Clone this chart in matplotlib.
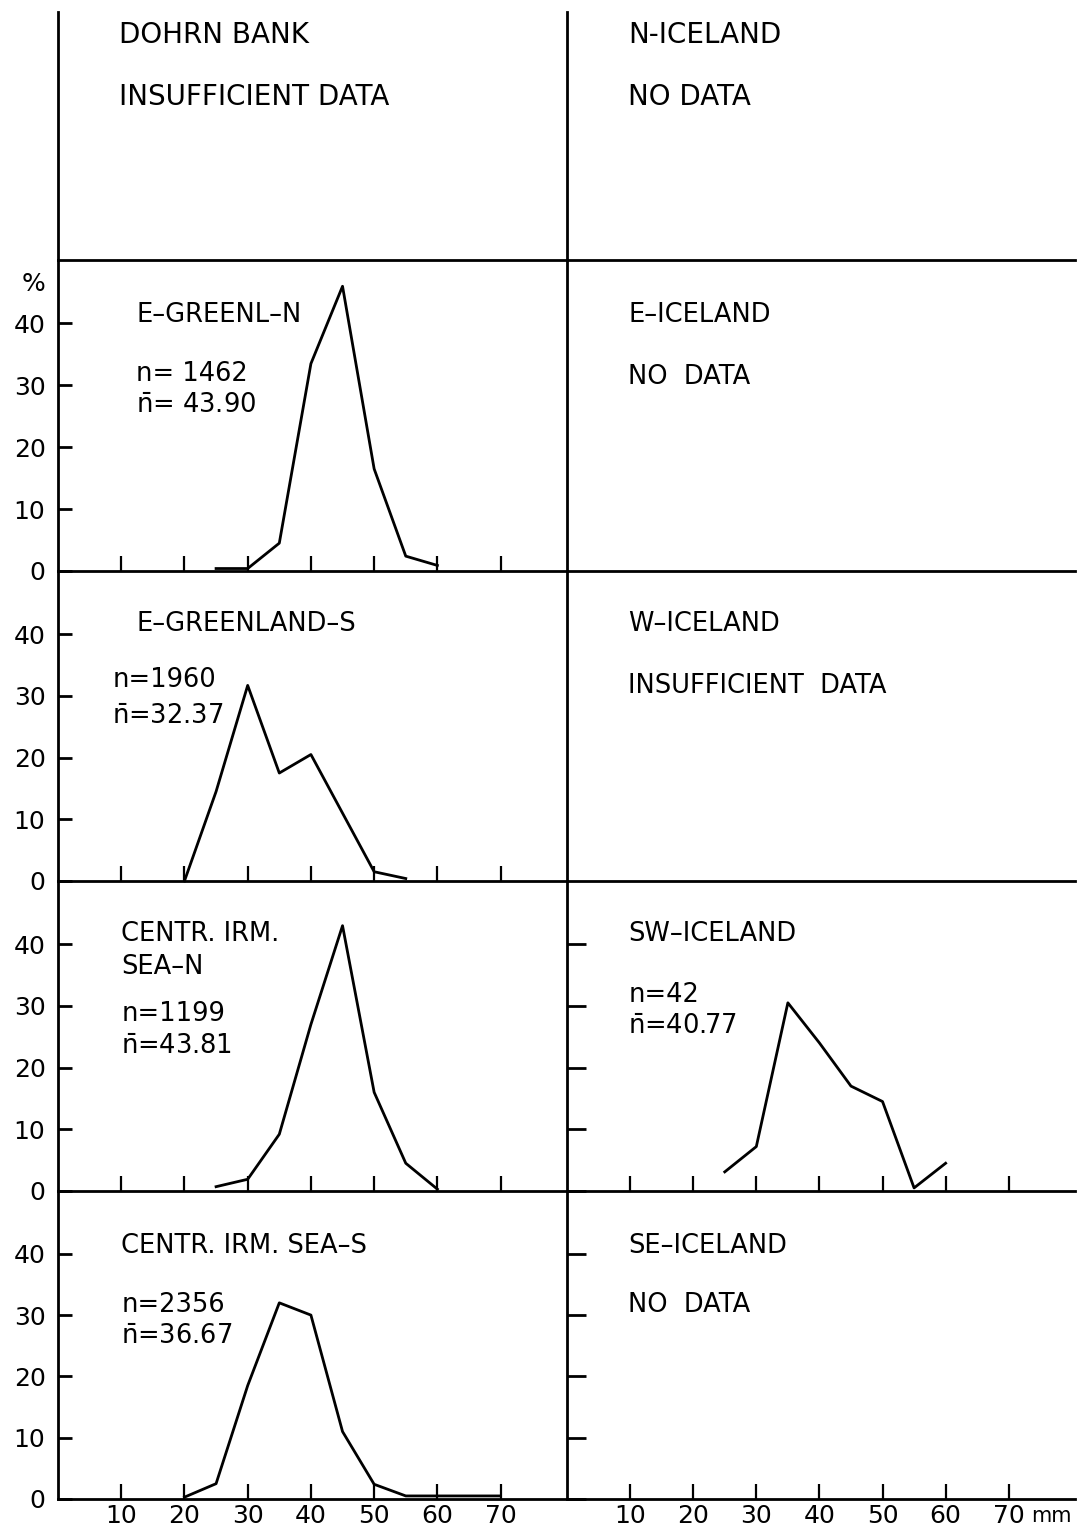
import matplotlib
matplotlib.use('Agg')
import matplotlib.pyplot as plt
from matplotlib import font_manager

plt.rcParams['font.family'] = 'DejaVu Sans'
plt.rcParams['mathtext.fontset'] = 'dejavusans'

# length classes (mm) and percentages
egn_x = [25, 30, 35, 40, 45, 50, 55, 60]
egn_y = [0.4, 0.4, 4.5, 33.5, 46.0, 16.5, 2.4, 0.9]

egs_x = [20, 25, 30, 35, 40, 45, 50, 55]
egs_y = [0.0, 14.5, 31.7, 17.5, 20.5, 11.0, 1.5, 0.4]

cin_x = [25, 30, 35, 40, 45, 50, 55, 60]
cin_y = [0.7, 1.9, 9.2, 27.0, 43.0, 16.0, 4.5, 0.3]

cis_x = [20, 25, 30, 35, 40, 45, 50, 55, 60, 65, 70]
cis_y = [0.3, 2.5, 18.5, 32.0, 30.0, 11.0, 2.4, 0.5, 0.5, 0.5, 0.5]

swi_x = [25, 30, 35, 40, 45, 50, 55, 60]
swi_y = [3.1, 7.2, 30.5, 24.0, 17.0, 14.5, 0.5, 4.5]

xticks = [10, 20, 30, 40, 50, 60, 70]
yticks = [0, 10, 20, 30, 40]

W, H = 1080, 1531
fig = plt.figure(figsize=(W / 100, H / 100), dpi=100)

LW = 2.0
FS = 18.5   # panel labels
TFS = 18    # tick labels

def px_axes(x0, x1, ytop, ybot):
    return fig.add_axes([x0 / W, 1 - ybot / H, (x1 - x0) / W, (ybot - ytop) / H])

def style(ax, ylim, yticklabels=False, yticks_on=False, xticks_on=False, xlabels=False, ytick_len=10):
    ax.set_xlim(0, 80.5)
    ax.set_ylim(0, ylim)
    for s in ['top', 'right']:
        ax.spines[s].set_visible(False)
    for s in ['left', 'bottom']:
        ax.spines[s].set_linewidth(LW)
    ax.set_facecolor('none')
    if yticks_on:
        ax.set_yticks(yticks)
        ax.tick_params(axis='y', direction='in', length=ytick_len, width=LW, pad=9,
                       labelsize=TFS, labelleft=yticklabels)
    else:
        ax.set_yticks([])
    if xticks_on:
        ax.set_xticks(xticks)
        ax.tick_params(axis='x', direction='in', length=11, width=1.6, pad=3.5,
                       labelsize=TFS, labelbottom=xlabels)
    else:
        ax.set_xticks([])

rows = [(12, 260), (260, 571), (571, 881), (881, 1191), (1191, 1499)]
LX0, MID, RX1 = 58, 567, 1075

axes = []
for i, (t, b) in enumerate(rows):
    axl = px_axes(LX0, MID, t, b)
    axr = px_axes(MID, RX1, t, b)
    axes.append((axl, axr))

ylim_row = 310 / 6.17
top_ylim = (260 - 12) / 6.17

# row 1 (condensed lettering in the original)
axl, axr = axes[0]
style(axl, top_ylim)
style(axr, top_ylim)
narrow = 'Liberation Sans Narrow'
try:
    font_manager.findfont(narrow, fallback_to_default=False)
except Exception:
    narrow = 'DejaVu Sans'
axl.text(9.7, 36.5, 'DOHRN BANK', family=narrow, fontsize=20, va='center')
axl.text(9.7, 26.4, 'INSUFFICIENT DATA', family=narrow, fontsize=20, va='center')
axr.text(9.7, 36.5, 'N-ICELAND', family=narrow, fontsize=20, va='center')
axr.text(9.7, 26.4, 'NO DATA', family=narrow, fontsize=20, va='center')

nbar = r'$\bar{\mathrm{n}}$'

# row 2
axl, axr = axes[1]
style(axl, ylim_row, yticklabels=True, yticks_on=True, xticks_on=True)
style(axr, ylim_row)
axl.plot(egn_x, egn_y, color='black', lw=LW, clip_on=False)
axl.text(12.4, 41.3, 'E–GREENL–N', fontsize=FS, va='center')
axl.text(12.4, 31.8, 'n= 1462', fontsize=FS, va='center')
axl.text(12.4, 26.6, nbar + '= 43.90', fontsize=FS, va='center')
axl.text(-3.8, 46.4, '%', fontsize=TFS, va='center', ha='center')
axr.text(9.7, 41.3, 'E–ICELAND', fontsize=FS, va='center')
axr.text(9.7, 31.4, 'NO  DATA', fontsize=FS, va='center')

# row 3
axl, axr = axes[2]
style(axl, ylim_row, yticklabels=True, yticks_on=True, xticks_on=True)
style(axr, ylim_row)
axl.plot(egs_x, egs_y, color='black', lw=LW, clip_on=False)
axl.text(12.4, 41.7, 'E–GREENLAND–S', fontsize=FS, va='center')
axl.text(8.6, 32.6, 'n=1960', fontsize=FS, va='center')
axl.text(8.6, 26.6, nbar + '=32.37', fontsize=FS, va='center')
axr.text(9.7, 41.7, 'W–ICELAND', fontsize=FS, va='center')
axr.text(9.7, 31.6, 'INSUFFICIENT  DATA', fontsize=FS, va='center')

# row 4
axl, axr = axes[3]
style(axl, ylim_row, yticklabels=True, yticks_on=True, xticks_on=True)
style(axr, ylim_row, yticks_on=True, xticks_on=True, ytick_len=14)
axl.plot(cin_x, cin_y, color='black', lw=LW, clip_on=False)
axl.text(10, 41.7, 'CENTR. IRM.', fontsize=FS, va='center')
axl.text(10, 36.3, 'SEA–N', fontsize=FS, va='center')
axl.text(10, 28.7, 'n=1199', fontsize=FS, va='center')
axl.text(10, 23.3, nbar + '=43.81', fontsize=FS, va='center')
axr.plot(swi_x, swi_y, color='black', lw=LW, clip_on=False)
axr.text(9.7, 41.7, 'SW–ICELAND', fontsize=FS, va='center')
axr.text(9.7, 31.8, 'n=42', fontsize=FS, va='center')
axr.text(9.7, 26.6, nbar + '=40.77', fontsize=FS, va='center')

# row 5
axl, axr = axes[4]
style(axl, ylim_row, yticklabels=True, yticks_on=True, xticks_on=True, xlabels=True)
style(axr, ylim_row, yticks_on=True, xticks_on=True, xlabels=True, ytick_len=14)
axl.plot(cis_x, cis_y, color='black', lw=LW, clip_on=False)
axl.text(10, 41.2, 'CENTR. IRM. SEA–S', fontsize=FS, va='center')
axl.text(10, 31.6, 'n=2356', fontsize=FS, va='center')
axl.text(10, 26.4, nbar + '=36.67', fontsize=FS, va='center')
axr.text(9.7, 41.2, 'SE–ICELAND', fontsize=FS, va='center')
axr.text(9.7, 31.6, 'NO  DATA', fontsize=FS, va='center')
axr.text(73.6, -2.7, 'mm', fontsize=15, va='center', ha='left', clip_on=False)

fig.savefig('out.png', dpi=100, facecolor='white')
